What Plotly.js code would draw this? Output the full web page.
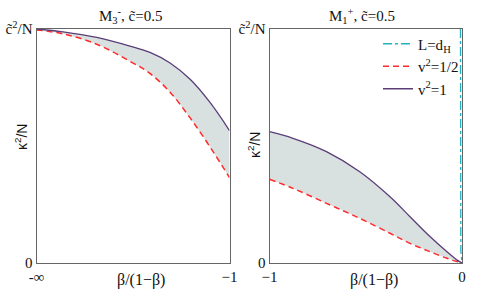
<!DOCTYPE html>
<html><head><meta charset="utf-8">
<script src="https://cdn.plot.ly/plotly-3.0.1.min.js"></script>
<style>html,body{margin:0;padding:0;background:#fff}#c{width:485px;height:297px}</style>
</head><body><div id="c"></div>
<script>
// Left panel: M3^-, x from -inf (0) to -1 (1)
const leftX      = [0, 0.138, 0.312, 0.484, 0.588, 0.692, 0.796, 0.900, 1.0];
const leftV1     = [1.0, 0.988, 0.964, 0.927, 0.900, 0.855, 0.785, 0.685, 0.566];
const leftVHalf  = [0.996, 0.979, 0.935, 0.862, 0.810, 0.730, 0.620, 0.495, 0.365];
// Right panel: M1^+, beta/(1-beta) from -1 to 0
const rightX     = [-1.0, -0.878, -0.704, -0.531, -0.374, -0.270, -0.165, -0.078, -0.021, 0.0];
const rightV1    = [0.561, 0.533, 0.476, 0.390, 0.283, 0.198, 0.112, 0.048, 0.010, 0.0];
const rightVHalf = [0.358, 0.319, 0.255, 0.191, 0.127, 0.084, 0.048, 0.020, 0.005, 0.0];
const dHX        = [-0.008, -0.008, -0.006, 0.0];
const dHY        = [1.0, 0.3, 0.05, 0.0];
const leftTicks  = ["-∞", "−1"];
const rightTicks = ["−1", "0"];
const yTicks     = ["0", "c̃<sup>2</sup>/N"];

const purple = '#5b3d78', red = '#ff2a2a', cyan = '#22b2c2', fillc = 'rgba(212,221,221,0.9)';
const serif = 'Liberation Serif';

const traces = [
  {x: leftX, y: leftVHalf, xaxis:'x', yaxis:'y', mode:'lines', line:{color:red, width:1.5, dash:'6px,4px', shape:'spline'}, showlegend:false},
  {x: leftX, y: leftV1, xaxis:'x', yaxis:'y', mode:'lines', line:{color:purple, width:1.3, shape:'spline'}, fill:'tonexty', fillcolor:fillc, showlegend:false},
  {x: dHX, y: dHY, xaxis:'x2', yaxis:'y2', mode:'lines', name:'L=d<sub>H</sub>', line:{color:cyan, width:1.3, dash:'dashdot'}},
  {x: rightX, y: rightVHalf, xaxis:'x2', yaxis:'y2', mode:'lines', name:'v<sup>2</sup>=1/2', line:{color:red, width:1.5, dash:'6px,4px', shape:'spline'}},
  {x: rightX, y: rightV1, xaxis:'x2', yaxis:'y2', mode:'lines', line:{color:'rgba(0,0,0,0)', width:0, shape:'spline'}, fill:'tonexty', fillcolor:fillc, showlegend:false},
  {x: rightX, y: rightV1, xaxis:'x2', yaxis:'y2', mode:'lines', name:'v<sup>2</sup>=1', line:{color:purple, width:1.3, shape:'spline'}}
];

const ax = {showline:true, mirror:true, linecolor:'#666', linewidth:1, showgrid:false, zeroline:false, ticks:'', tickmode:'array', tickfont:{family:serif, size:15, color:'#111'}};
const y0 = 1-263/297, y1 = 1-29/297;
const ann = (text, x, y, size, fam, angle) => ({text, xref:'paper', yref:'paper', x:x/485, y:1-y/297, xanchor:'center', yanchor:'middle', showarrow:false, textangle:angle||0, font:{family:fam||serif, size:size, color:'#111'}});
const layout = {
  width:485, height:297, margin:{l:0,r:0,t:0,b:0}, paper_bgcolor:'#fff', plot_bgcolor:'#fff',
  xaxis: Object.assign({}, ax, {domain:[36.5/485, 229.5/485], range:[0,1], tickvals:[0,1], ticktext:leftTicks, anchor:'y'}),
  yaxis: Object.assign({}, ax, {domain:[y0,y1], range:[0,1], tickvals:[0,1], ticktext:yTicks, anchor:'x'}),
  xaxis2: Object.assign({}, ax, {domain:[269.5/485, 462/485], range:[-1,0], tickvals:[-1,0], ticktext:rightTicks, anchor:'y2'}),
  yaxis2: Object.assign({}, ax, {domain:[y0,y1], range:[0,1], tickvals:[0,1], ticktext:yTicks, anchor:'x2'}),
  legend: {x:464/485, xanchor:'right', y:y1+0.005, yanchor:'top', traceorder:'normal', bgcolor:'rgba(0,0,0,0)', font:{family:serif, size:15, color:'#111'}, tracegroupgap:0, itemwidth:30},
  annotations: [
    ann('M<sub>3</sub><sup>-</sup>, c̃=0.5', 130, 16, 15),
    ann('M<sub>1</sub><sup>+</sup>, c̃=0.5', 362, 16, 15),
    ann('β/(1−β)', 141, 280, 16),
    ann('β/(1−β)', 374, 280, 16),
    ann('κ<sup>2</sup>/N', 21, 137, 14, 'Liberation Sans', -90),
    ann('κ<sup>2</sup>/N', 254, 145, 14, 'Liberation Sans', -90)
  ]
};
Plotly.newPlot('c', traces, layout, {staticPlot:true});
</script></body></html>
